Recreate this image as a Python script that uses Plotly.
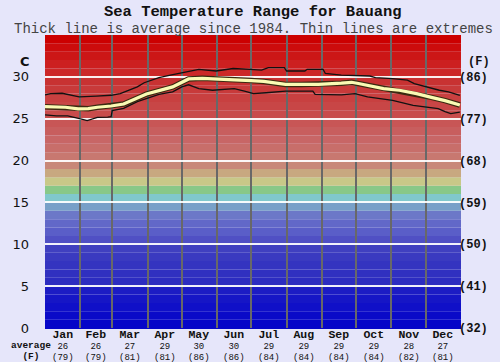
import plotly.graph_objects as go

# ---------------- data ----------------
months = ["Jan", "Feb", "Mar", "Apr", "May", "Jun", "Jul", "Aug", "Sep", "Oct", "Nov", "Dec"]
month_avg_c = [26, 26, 27, 29, 30, 30, 29, 29, 29, 29, 28, 27]
month_avg_f = [79, 79, 81, 81, 86, 86, 84, 84, 84, 84, 82, 81]
month_start_day = [0, 31, 59, 90, 120, 151, 181, 212, 243, 273, 304, 334, 365]

c_ticks = [0, 5, 10, 15, 20, 25, 30]
f_ticks = ["(32)", "(41)", "(50)", "(59)", "(68)", "(77)", "(86)"]

avg_day = [0, 10, 18, 29, 38, 46, 58, 69, 75, 89, 104, 112, 118, 126, 138, 152, 166, 181, 192,
           211, 225, 240, 260, 269, 275, 285, 297, 311, 326, 339, 351, 364]
avg_temp = [26.44, 26.4, 26.37, 26.17, 26.2, 26.37, 26.52, 26.76, 27.1, 27.95, 28.5, 28.8, 29.2, 29.75,
            29.83, 29.78, 29.65, 29.55, 29.45, 29.1, 29.1, 29.1, 29.25, 29.35, 29.2, 28.9, 28.6, 28.4,
            28.0, 27.55, 27.16, 26.64]

max_day = [0, 5, 15, 25, 30, 45, 58, 66, 72, 81, 87, 100, 110, 120, 135, 150, 165, 180, 190, 196,
           210, 212, 228, 230, 244, 246, 260, 285, 290, 305, 318, 324, 334, 346, 354, 364]
max_temp = [27.84, 28.0, 28.04, 27.7, 27.6, 27.7, 27.8, 28.0, 28.3, 28.8, 29.3, 29.9, 30.2, 30.5, 30.9,
            30.7, 31.0, 30.9, 30.8, 31.1, 31.1, 30.7, 30.7, 30.9, 30.9, 30.4, 30.2, 30.1, 29.9, 29.8,
            29.6, 29.2, 28.8, 28.4, 28.2, 27.8]

min_day = [0, 10, 20, 27, 33, 37, 41, 46, 55, 58, 59, 69, 81, 100, 112, 120, 126, 135, 147, 155, 166,
           175, 183, 194, 211, 235, 237, 260, 272, 283, 294, 305, 323, 334, 345, 351, 356, 364]
min_temp = [25.45, 25.35, 25.35, 25.17, 24.93, 24.77, 24.95, 25.17, 25.2, 25.25, 25.97, 26.24, 27.05,
            27.9, 28.2, 28.8, 29.05, 28.6, 28.4, 28.45, 28.6, 28.3, 28.0, 28.1, 28.3, 28.3, 27.9, 27.85,
            28.0, 27.6, 27.4, 27.2, 26.6, 26.4, 26.2, 25.85, 25.6, 25.8]

# ---------------- styling ----------------
band_colors = [
    "#0606c8", "#0a0ac8", "#1010c8", "#1616c6", "#1c1cc4",
    "#2c2cc0", "#3030c0", "#3434c0", "#3a3ac0", "#4040c0",
    "#5050c4", "#5a5ec8", "#6268c8", "#6c78c8", "#78a0c8",
    "#80c8cc", "#88c888", "#c8c888", "#c8a880", "#c88878",
    "#c87870", "#c86e6a", "#c86666", "#c85e5e", "#c85656",
    "#c84c4c", "#c84646", "#c84040", "#c83a3a", "#c83232",
    "#cc2828", "#cc2020", "#cc1616", "#cc0c0c", "#cc0000",
]
BG = "#e6e6fa"
MONO = "Liberation Mono, Courier New, monospace"
SANS = "DejaVu Sans, Verdana, sans-serif"

fig = go.Figure()

fig.add_trace(go.Scatter(x=max_day, y=max_temp, mode="lines", line=dict(color="#111111", width=1.3),
                         hoverinfo="skip", showlegend=False))
fig.add_trace(go.Scatter(x=min_day, y=min_temp, mode="lines", line=dict(color="#111111", width=1.3),
                         hoverinfo="skip", showlegend=False))
fig.add_trace(go.Scatter(x=avg_day, y=avg_temp, mode="lines", line=dict(color="#3a2a10", width=5.5),
                         hoverinfo="skip", showlegend=False))
fig.add_trace(go.Scatter(x=avg_day, y=avg_temp, mode="lines", line=dict(color="#fafab4", width=3.2),
                         hoverinfo="skip", showlegend=False))
fig.add_trace(go.Scatter(x=[None], y=[None], yaxis="y2", showlegend=False, hoverinfo="skip"))

shapes = []
for i, col in enumerate(band_colors):
    shapes.append(dict(type="rect", xref="paper", x0=0, x1=1, yref="y", y0=i, y1=i + 1,
                       fillcolor=col, line=dict(width=0), layer="below"))

PLOT_H = 293.0


def py(pixel_y):
    """paper y for a pixel row of the 362px-high figure"""
    return (328.0 - pixel_y) / PLOT_H


def ann(x, y, text, font, xref="paper", xanchor="center", xshift=0, yanchor="middle"):
    return dict(x=x, y=y, xref=xref, yref="paper", text=text, showarrow=False, font=font,
                xanchor=xanchor, yanchor=yanchor, xshift=xshift)


def span(txt, size, bold=False):
    t = "<b>%s</b>" % txt if bold else txt
    return "<span style='font-size:%spx'>%s</span>" % (size, t)


LINE_BASE = 8.3  # sets the spacing between the three rows of month labels

annotations = []
for i, m in enumerate(months):
    xc = (month_start_day[i] + month_start_day[i + 1]) / 2
    txt = "<br>".join([span(m, 11.5, True), span(str(month_avg_c[i]), 9), span("(%d)" % month_avg_f[i], 9)])
    annotations.append(ann(xc, py(345.5), txt, dict(family=MONO, size=LINE_BASE, color="#111"), xref="x"))

annotations += [
    ann(0.5, py(11.5), "<b>Sea Temperature Range for Bauang</b>", dict(family=MONO, size=15.5, color="#111")),
    ann(0.5, py(28.8), "Thick line is average since 1984. Thin lines are extremes",
        dict(family=MONO, size=14, color="#444")),
    ann(0, py(61), "<b>C</b>", dict(family=SANS, size=13, color="#111"), xanchor="right", xshift=-13),
    ann(1, py(62), "<b>(F)</b>", dict(family=MONO, size=12, color="#111"), xanchor="center", xshift=18),
    ann(0, py(351), "<br>".join([span("<b>average</b>", 9.5), span("<b>(F)</b>", 9.5)]),
        dict(family=MONO, size=LINE_BASE, color="#111"), xanchor="center", xshift=-14),
]

fig.update_layout(
    width=500, height=362,
    margin=dict(l=35, r=37, t=35, b=34),
    paper_bgcolor=BG, plot_bgcolor=BG,
    shapes=shapes, annotations=annotations,
    xaxis=dict(range=[0, 365], tickvals=month_start_day[1:-1], showticklabels=False,
               showgrid=True, gridcolor="#686868", gridwidth=1.5, zeroline=False, ticks="",
               fixedrange=True),
    yaxis=dict(range=[0, 35], tickvals=c_ticks, showgrid=True, gridcolor="rgba(255,255,255,0.92)",
               gridwidth=2, zeroline=True, zerolinecolor="#0606c8", zerolinewidth=1, ticks="",
               ticklabelstandoff=15, fixedrange=True,
               tickfont=dict(family=SANS, size=13, color="#111")),
    yaxis2=dict(range=[0, 35], overlaying="y", side="right", tickvals=c_ticks,
                ticktext=["<b>%s</b>" % t for t in f_ticks], showgrid=False, zeroline=False, ticks="",
                ticklabelstandoff=-3, fixedrange=True,
                tickfont=dict(family=MONO, size=12, color="#111")),
)

fig.write_html("out.html", config={"displayModeBar": False},
               post_script="document.body.style.margin='0';")
